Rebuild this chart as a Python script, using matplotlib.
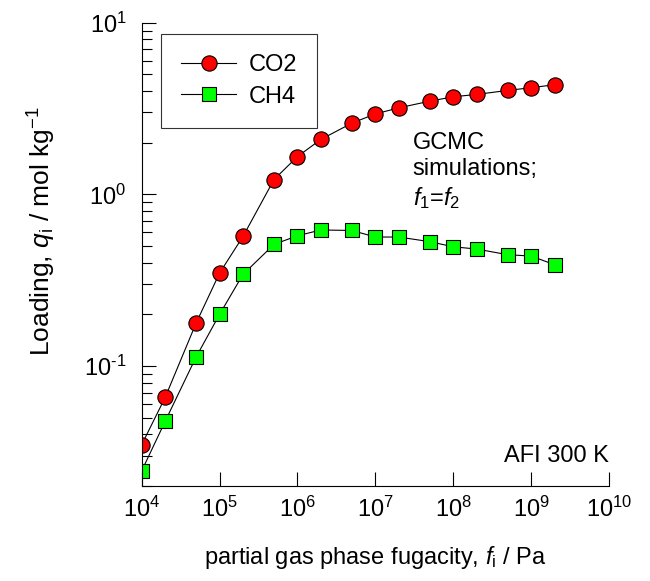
import numpy as np
import matplotlib
matplotlib.use('Agg')
import matplotlib.pyplot as plt
from matplotlib.ticker import LogLocator, NullLocator, NullFormatter, FuncFormatter

plt.rcParams['font.family'] = 'Liberation Sans'
plt.rcParams['mathtext.fontset'] = 'custom'
plt.rcParams['mathtext.rm'] = 'Liberation Sans'
plt.rcParams['mathtext.it'] = 'Liberation Sans:italic'
plt.rcParams['axes.unicode_minus'] = False

# fugacity, Pa
fug = [1e4, 2e4, 5e4, 1e5, 2e5, 5e5, 1e6, 2e6, 5e6, 1e7, 2e7, 5e7, 1e8, 2e8, 5e8, 1e9, 2e9]
# loadings, mol/kg
q_co2 = [0.0348, 0.0656, 0.178, 0.348, 0.569, 1.22, 1.66, 2.09, 2.60, 2.94, 3.19, 3.49, 3.70, 3.82, 4.03, 4.18, 4.35]
q_ch4 = [0.0245, 0.0476, 0.113, 0.200, 0.342, 0.511, 0.574, 0.620, 0.616, 0.564, 0.564, 0.530, 0.495, 0.480, 0.445, 0.437, 0.389]


def pow10(v, pos):
    e = int(round(np.log10(v)))
    s = str(e).replace('-', r'\text{-}')
    return r'$\mathdefault{10^{%s}}$' % s


fig = plt.figure(figsize=(6.5, 5.81), dpi=100)
ax = fig.add_axes([0.218, 0.1635, 0.719, 0.7975])

ax.plot(fug, q_co2, '-o', color='black', lw=0.8, mfc='#ff0000', mec='black', mew=0.8, ms=11, label='CO2')
ax.plot(fug, q_ch4, '-s', color='black', lw=0.8, mfc='#00ff00', mec='black', mew=0.8, ms=10.5, label='CH4')

ax.set_xscale('log')
ax.set_yscale('log')
ax.set_xlim(1e4, 1e10)
ax.set_ylim(0.02, 10)

ax.spines['top'].set_visible(False)
ax.spines['right'].set_visible(False)
ax.xaxis.set_major_locator(LogLocator(base=10, numticks=20))
ax.xaxis.set_minor_locator(NullLocator())
ax.xaxis.set_major_formatter(FuncFormatter(pow10))
ax.yaxis.set_major_locator(LogLocator(base=10, numticks=20))
ax.yaxis.set_major_formatter(FuncFormatter(pow10))
ax.yaxis.set_minor_locator(LogLocator(base=10, subs=np.arange(2, 10), numticks=20))
ax.yaxis.set_minor_formatter(NullFormatter())
ax.tick_params(axis='x', which='major', direction='in', length=10, width=0.8, labelsize=17, pad=8)
ax.tick_params(axis='y', which='major', direction='in', length=10, width=0.8, labelsize=17, pad=11)
ax.tick_params(axis='y', which='minor', direction='in', length=7, width=0.8)

ax.set_xlabel(r'partial gas phase fugacity, $f_\mathrm{i}$ / Pa', fontsize=17)
ax.set_ylabel(r'Loading, $q_\mathrm{i}$ / mol kg$^{-1}$', fontsize=19)
ax.xaxis.set_label_coords(0.5, -0.125)
ax.yaxis.set_label_coords(-0.18, 0.55)

leg = ax.legend(loc='upper left', bbox_to_anchor=(0.042, 0.975), fontsize=17, frameon=True,
                fancybox=False, edgecolor='black', borderpad=0.85, handlelength=2.3,
                labelspacing=0.4, handletextpad=0.55, borderaxespad=0)
leg.get_frame().set_linewidth(0.8)

ax.text(0.58, 0.765, 'GCMC\nsimulations;\n$f_1$=$f_2$', transform=ax.transAxes,
        fontsize=17, va='top', ha='left', linespacing=1.25)
ax.text(1.0, 0.065, 'AFI 300 K', transform=ax.transAxes, fontsize=17, ha='right', va='center')

fig.savefig('out.png', dpi=100)
